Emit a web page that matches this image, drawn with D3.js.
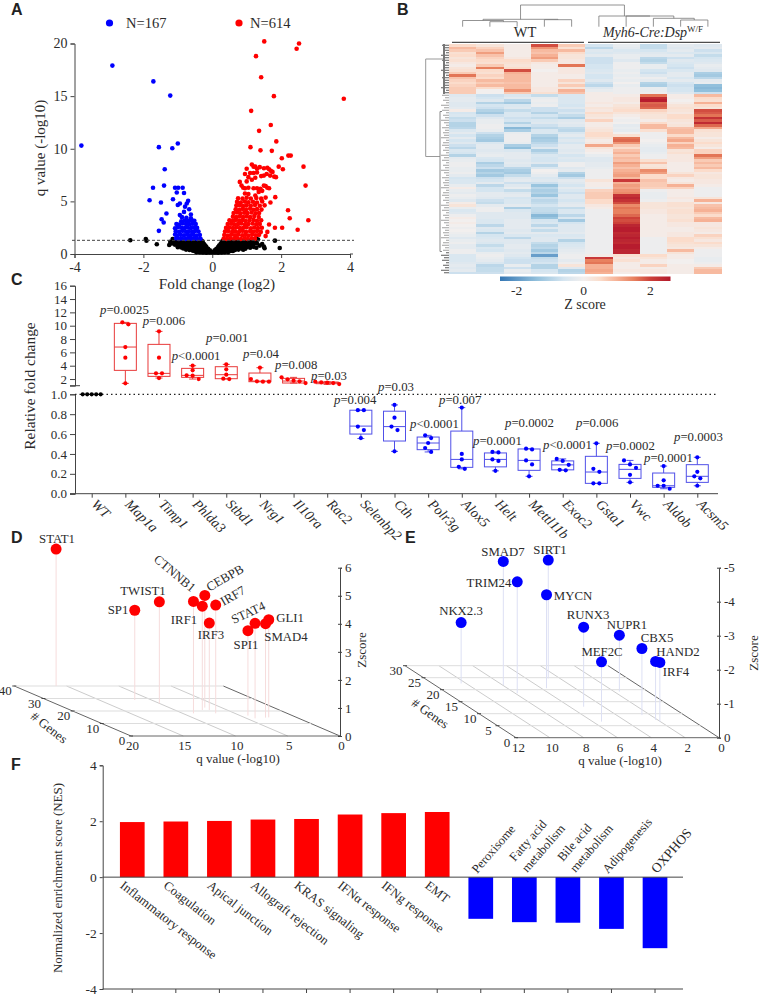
<!DOCTYPE html>
<html>
<head>
<meta charset="utf-8">
<script src="https://d3js.org/d3.v7.min.js"></script>
<style>
  html, body { margin: 0; padding: 0; background: #fff; }
  svg { display: block; }
  text { font-family: "Liberation Serif", serif; fill: #2b2b2b; }
  .domain, .tick line { stroke: #444; }
</style>
</head>
<body>
<svg id="vis" width="760" height="996"></svg>

<script>
// ---- Panel A values: [log2 fold change, -log10 q]
var volcanoBlue = [[-2.9,17.9],[-1.71,16.4],[-1.22,15.05],[-3.8,10.3],[-1.55,10.15],[-1.16,10.05],[-1.0,10.5],[-1.38,8.05],[-1.4,6.5],[-1.72,6.3],[-1.08,6.3],[-.99,6.3],[-.86,6.3],[-1.03,5.85],[-.82,5.8],[-1.82,5.1],[-1.14,5.2],[-1.49,4.9],[-.94,4.8],[-1.0,4.65],[-.7,5.05],[-.74,4.8],[-.79,4.5],[-1.33,3.85],[-.67,4.25],[-.82,4.0],[-.62,3.75],[-.94,3.7],[-1.47,3.3],[-1.41,3.0],[-1.55,2.2],
  [-.34,1.45],[-.43,1.42],[-.52,1.48],[-.6,1.44],[-.7,1.5],[-.78,1.43],[-.88,1.47],[-.97,1.42],[-1.05,1.5],
  [-.36,1.8],[-.46,1.76],[-.55,1.83],[-.64,1.78],[-.72,1.84],[-.82,1.77],[-.92,1.82],[-1.02,1.76],[-1.08,1.85],
  [-.4,2.14],[-.5,2.18],[-.58,2.1],[-.68,2.16],[-.76,2.12],[-.86,2.2],[-.96,2.1],[-1.06,2.17],
  [-.44,2.48],[-.53,2.52],[-.62,2.46],[-.72,2.54],[-.8,2.47],[-.9,2.5],[-1.0,2.55],[-1.08,2.44],
  [-.48,2.84],[-.58,2.88],[-.66,2.82],[-.76,2.86],[-.86,2.9],[-.96,2.8],[-1.04,2.85],
  [-.52,3.15],[-.6,3.2],[-.7,3.12],[-.8,3.18],[-.9,3.1],[-.62,3.4],[-.75,3.45],[-.88,3.5]];

var volcanoRed = [[1.51,20.2],[2.52,20.0],[2.45,19.5],[1.27,18.8],[1.42,16.8],[1.79,15.0],[3.82,14.75],[1.13,13.6],[1.70,12.25],[1.36,11.7],[1.11,10.15],[1.86,10.7],[1.40,9.85],[1.73,9.8],[2.02,9.1],[2.21,9.35],[2.28,9.35],[2.65,8.3],[1.93,8.3],[2.05,8.05],[2.71,6.5],[2.2,4.15],[2.25,3.4],[2.79,3.2],[2.48,2.3],[2.03,2.5],[1.82,2.5],[1.6,2.1],[1.55,1.7],[1.65,2.8],[1.69,4.9],[1.83,5.4],
  [1.0,8.1],[1.15,8.5],[1.2,8.3],[1.25,8.3],[1.3,8.1],[1.38,8.25],[1.5,8.15],[1.6,8.2],[1.65,8.05],[1.7,7.9],[1.75,7.8],[1.58,7.6],[1.68,7.45],[1.8,7.35],[1.85,7.3],[1.5,7.45],[1.42,7.4],[1.3,7.75],[1.2,7.7],[1.1,7.7],[.95,7.6],[1.05,7.3],[1.25,7.25],[1.15,7.05],[1.0,6.9],[.8,6.85],[.85,6.5],[.9,6.3],[.95,6.25],[1.05,6.3],[1.2,6.25],[1.3,6.25],[1.4,6.2],[1.5,6.5],[1.55,6.45],[1.6,6.3],[1.65,6.25],[1.45,6.0],[1.35,5.9],[1.05,5.7],[.95,5.75],[1.25,5.55],
  [.33,1.45],[.42,1.42],[.52,1.48],[.63,1.44],[.72,1.5],[.83,1.43],[.94,1.47],[1.03,1.42],[1.14,1.5],[1.24,1.44],
  [.35,1.8],[.45,1.76],[.55,1.83],[.66,1.78],[.75,1.84],[.87,1.77],[.96,1.82],[1.05,1.76],[1.16,1.85],[1.27,1.78],[1.36,1.82],
  [.37,2.14],[.47,2.18],[.58,2.1],[.67,2.16],[.78,2.12],[.88,2.2],[.98,2.1],[1.1,2.17],[1.2,2.12],[1.3,2.18],[1.41,2.1],
  [.4,2.48],[.5,2.52],[.6,2.46],[.7,2.54],[.8,2.47],[.9,2.5],[1.0,2.55],[1.12,2.44],[1.22,2.52],[1.33,2.46],[1.44,2.5],
  [.45,2.84],[.55,2.88],[.64,2.82],[.75,2.86],[.84,2.9],[.95,2.8],[1.05,2.85],[1.17,2.9],[1.28,2.82],[1.38,2.86],
  [.5,3.2],[.6,3.16],[.68,3.24],[.78,3.18],[.88,3.22],[.97,3.14],[1.08,3.2],[1.2,3.24],[1.3,3.16],[1.42,3.2],
  [.6,3.55],[.7,3.5],[.8,3.58],[.9,3.52],[1.0,3.56],[1.1,3.5],[1.22,3.6],[1.35,3.52],
  [.62,3.9],[.72,3.94],[.82,3.86],[.93,3.92],[1.02,3.88],[1.14,3.95],[1.26,3.86],[1.36,3.9],
  [.68,4.25],[.78,4.2],[.88,4.28],[.98,4.22],[1.1,4.3],[1.2,4.2],[1.3,4.26],[1.43,4.22],
  [.7,4.6],[.8,4.64],[.9,4.56],[1.0,4.62],[1.12,4.58],[1.24,4.66],[1.38,4.58],[1.52,4.62],
  [.72,4.95],[.83,4.9],[.95,4.98],[1.05,4.92],[1.18,4.96],[1.3,4.9],[1.45,5.0],
  [.75,5.3],[.88,5.26],[1.0,5.34],[1.12,5.28],[1.28,5.32],[1.42,5.26],[1.55,5.36]];

var volcanoBlack = [[-2.38,1.3],[-1.93,1.42],[-1.91,1.27],[-1.61,.92],[-1.25,.85],[-1.17,1.0],[-1.15,1.42],[-1.22,1.15],[1.82,1.27],[1.96,.57],[1.28,.6],[1.5,.7],[1.52,.55],[1.28,1.48],[1.33,1.38],[1.2,1.4],[1.45,.95],[1.38,.8],
  [-.3,1.25],[-.38,1.2],[-.47,1.26],[-.56,1.2],[-.65,1.25],[-.75,1.2],[-.85,1.26],[-.95,1.2],[-1.05,1.25],[-1.12,1.2],
  [.3,1.25],[.38,1.2],[.47,1.26],[.56,1.2],[.65,1.25],[.75,1.2],[.85,1.26],[.95,1.2],[1.05,1.25],[1.15,1.2],[1.25,1.25],
  [-.27,1.08],[-.36,1.05],[-.46,1.1],[-.55,1.05],[-.66,1.08],[-.76,1.05],[-.86,1.1],[-.96,1.05],[-1.04,1.08],
  [.27,1.08],[.36,1.05],[.46,1.1],[.55,1.05],[.66,1.08],[.76,1.05],[.86,1.1],[.96,1.05],[1.06,1.08],[1.16,1.05],[1.26,1.1],
  [-.24,.95],[-.33,.9],[-.42,.96],[-.51,.9],[-.6,.95],[-.7,.9],[-.8,.96],[-.9,.9],[-1.0,.95],[-1.08,.88],
  [.24,.95],[.33,.9],[.42,.96],[.51,.9],[.6,.95],[.7,.9],[.8,.96],[.9,.9],[1.0,.95],[1.1,.9],[1.2,.95],[1.3,1.0],
  [-.2,.8],[-.3,.76],[-.4,.8],[-.5,.76],[-.62,.8],[-.72,.76],[-.84,.8],[-.94,.78],
  [.2,.8],[.3,.76],[.4,.8],[.5,.76],[.62,.8],[.72,.76],[.84,.8],[.94,.78],[1.05,.8],[1.15,.76],
  [-.17,.65],[-.27,.6],[-.37,.66],[-.47,.6],[-.57,.65],[-.67,.6],[-.8,.66],[-.9,.62],[-1.0,.65],
  [.17,.65],[.27,.6],[.37,.66],[.47,.6],[.57,.65],[.67,.6],[.8,.66],[.9,.62],[1.0,.65],[1.1,.6],[1.2,.68],
  [-.12,.5],[-.22,.47],[-.32,.5],[-.42,.47],[-.52,.5],[-.62,.47],[-.72,.5],[-.84,.52],
  [.12,.5],[.22,.47],[.32,.5],[.42,.47],[.52,.5],[.62,.47],[.72,.5],[.84,.52],[.96,.5],
  [-.07,.35],[-.16,.32],[-.26,.36],[-.36,.3],[-.46,.36],[-.56,.32],[-.66,.38],[-.76,.42],
  [.07,.35],[.16,.32],[.26,.36],[.36,.3],[.46,.36],[.56,.32],[.66,.38],[.76,.42],[.9,.4],
  [-.04,.22],[-.12,.22],[-.21,.22],[-.3,.22],[-.4,.24],[-.5,.26],[.04,.22],[.12,.22],[.21,.22],[.3,.22],[.4,.24],[.5,.26],[.6,.28],
  [0,.14],[-.08,.14],[.08,.14],[-.17,.13],[.17,.13],[-.27,.14],[.27,.14],[-.36,.16],[.36,.16],[-.46,.18],[.46,.18]];

var volcanoXTicks = [-4, -2, 0, 2, 4];
var volcanoYTicks = [0, 5, 10, 15, 20];

// ---- Panel B values: z score per gene row, 5 WT columns then 5 Myh6-Cre:Dsp columns
var heatRows = [
[.5,.3,.1,1.9,.7,-.6,-.2,-.8,-.3,-.4],
[.9,.6,.1,1.3,.4,-.9,-.3,-.8,-.4,-.3],
[.7,.8,.1,.9,.9,-.4,-.5,-.6,-.3,-.7],
[.4,1.2,.1,.8,.5,-.5,-.4,-.4,-.5,-.5],
[.5,.8,.1,1,.3,-.3,-.2,-.3,-.3,-.8],
[.3,.6,.2,1.2,.3,-.7,-.2,-.9,-.7,-.6],
[.4,.5,.5,.7,.2,-.7,-.4,-1,-.4,-.5],
[.2,.4,.4,.2,.2,-.7,-.1,-.8,-.5,-.4],
[.1,.7,.3,.1,1.6,-.6,-.1,-.2,-.6,-.2],
[.3,1.5,.5,.1,.2,-.6,-.1,-.2,-.7,-.3],
[.4,.5,1.9,0,.2,-.5,-.2,-.6,-.5,-.4],
[.7,.4,1,.1,.2,-.4,-.1,-.7,-.3,-1.1],
[1.6,.6,.9,.1,.1,-.6,-.2,-.4,-.3,-1.2],
[.8,.5,.9,.1,.1,-.6,-.1,-.1,-.5,-.9],
[.6,.9,.9,.1,.6,-.4,-.2,-.3,-.3,-.3],
[.5,.7,.8,.1,.3,-.7,0,-1,-.6,-.2],
[.6,.9,.9,.1,.7,-.9,-.2,-1.1,-.7,-1.4],
[.7,.5,.9,.2,.3,-.4,-.1,-.2,-.6,-1.5],
[.7,0,1.3,.2,1,-.2,-.1,-.2,-.6,-1.4],
[.7,0,.7,.4,.8,.1,-.1,-.1,-.4,-.7],
[-.4,-.7,-.5,-.8,-.5,.1,.1,1.6,.1,.9],
[-.3,-.6,-.3,-.2,-.5,.1,.2,2.3,.1,.5],
[-.3,-.4,-.9,-.1,-.5,.1,.2,2.5,0,.4],
[-.4,-1,-1.2,-.2,-.5,.2,.1,1.7,.1,1],
[-.4,-.6,-.5,-.1,-.6,.1,.3,1.8,.3,.5],
[-.3,-.7,-.4,-.7,-.4,.3,.4,1.7,.4,.3],
[.1,-1,-.8,-.7,-.7,.2,.5,.6,.3,1.9],
[-.6,-1.2,-.5,-1,-.5,.5,.3,.4,.2,1.8],
[-.5,-.7,-.5,-.6,-.8,.3,.1,.3,.5,1.6],
[-.8,-.4,-.7,-.8,-1.1,.2,0,.3,.5,2.2],
[-.7,-.2,-.6,-.5,-.4,.6,-.1,.1,.3,1.8],
[-1,-.2,-1,-.4,-.3,.1,0,.5,.2,2.3],
[-1,-.1,-.6,-.7,-.4,.1,-.3,.9,.3,1.7],
[-.9,-.1,-1.5,-.9,-.8,.2,-.2,.9,.8,1.1],
[-.5,-.2,-1.1,-.5,-.9,.3,-.3,.4,.9,.4],
[-.3,-.7,-.2,-.5,-.5,.5,0,-.1,.9,.3],
[-.6,-1,-.1,-1,-.3,.5,.4,-.1,.5,.3],
[-.3,-1.1,-.1,-1.2,-.6,.3,1.6,-.1,.9,.1],
[-.6,-1.2,-.1,-1.1,-.4,.1,1.7,0,1.1,.3],
[-.4,-.5,-.2,-.9,-.6,.2,1.3,-.1,.6,.5],
[-.7,-.3,-1.1,-.7,-.3,1.1,.7,-.2,1,.3],
[-.9,-.3,-1.4,-.4,-.3,.3,.5,-.3,.9,.1],
[-.5,-.4,-.5,-1.1,-.4,.1,.8,-.3,.3,.6],
[-.6,-.3,-.3,-.8,-.3,0,1,-.2,.4,.6],
[-1,-.2,-.3,-.5,-.6,-.2,.7,-.1,.2,1.6],
[-.3,-.5,-.3,-.6,-.4,-.4,.9,-.1,.2,1.2],
[-.2,-.6,-.4,-.6,-.5,-.4,.8,.4,.2,.7],
[-.1,-1.1,-.3,-.4,-.1,-.3,1.2,.8,.1,.9],
[-.1,-.9,-.4,-.9,-.1,-.3,1,.3,.1,.7],
[-.2,-.7,-.9,-.5,-.4,-.2,.8,.4,.1,.9],
[-.2,-1.2,-1.1,0,-.3,-.1,1,1.4,.1,.5],
[-.1,-1,-1.2,-.1,-1,-.1,1.1,1.2,.3,.2],
[-.3,-1.2,-.8,-.3,-1.2,-.1,1.2,.5,.6,.3],
[-.6,-.7,-.4,-.5,-.7,-.1,.9,.5,.2,.3],
[-.5,-.6,-.3,-.4,-.3,.3,2.1,.8,.1,.2],
[-.5,-.3,-.7,-.7,-.4,.1,1,.7,.3,.2],
[-.2,-.9,-.4,-1.3,-.6,.1,1.2,.7,1,.1],
[.1,-.6,-.2,-.9,-.3,-.1,1.1,.6,.6,-.1],
[-.2,-.6,-.8,-1.1,-.5,.6,1.3,-.1,.1,-.1],
[-.3,-.3,-.4,-1,-.7,.7,1.4,-.2,.1,-.1],
[-.1,-.3,-.3,-1.3,-.4,.7,2.2,-.2,.1,-.1],
[-.2,-.4,-.6,-.7,-.4,.7,2.4,-.2,.2,.3],
[-.4,-.7,-.5,-.9,-.6,.5,2.2,-.1,.1,1],
[.1,-.8,-.5,-.8,-.4,.5,1.9,.3,.4,.2],
[.3,-.3,-.3,-.6,-.3,.2,1.4,.3,.4,.8],
[-.2,-.1,-1.1,-.8,-.8,.1,1.6,.3,.3,.9],
[-.5,-.1,-.5,-.8,-.5,-.1,1.5,.2,.4,1],
[-.4,-.4,-.4,-.9,-.5,-.1,1.5,.2,.4,.7],
[-.1,-.4,-.4,-1.5,-.9,-.1,1.7,.1,.3,.5],
[.1,-.4,-.4,-1.3,-.5,-.1,2,.1,.3,.9],
[0,-.5,-.3,-.6,-1.2,-.1,1.9,.1,.4,1],
[.1,-.5,-.3,-.5,-.6,-.1,2,.1,.2,.2],
[0,-.9,-.3,-.9,-.4,-.1,2.4,.1,.2,.2],
[-.1,-.4,-.3,-.4,-.4,-.1,2.5,.1,.1,.3],
[0,-.5,-.4,-.8,-.4,-.1,2.5,.1,.1,.2],
[-.1,-1,-.3,-.3,-.3,-.1,2.3,.1,.2,.1],
[-.2,-.6,-.5,-.5,-.5,-.1,2.4,.1,.2,.6],
[-.4,-.5,-.9,-.4,-.4,-.1,2.5,-.1,.5,.4],
[-.2,-.4,-.4,-.4,-1,-.1,2.4,-.1,.5,.2],
[-.1,-.5,-.4,-.8,-.6,-.1,2.3,-.1,.4,.5],
[-.3,-.8,-.3,-1,-.5,-.1,2.5,-.1,.3,.3],
[-.3,-.5,-.3,-.9,-.4,-.1,2.5,-.1,.2,.1],
[-.1,-.6,-.4,-1.2,-.3,-.1,2.4,-.1,.9,-.1],
[-.1,-.2,-.3,-.9,-.2,-.1,2.4,-.1,.3,-.1],
[-.5,-.1,-.4,-1.9,-.1,.1,.4,.5,.1,-.1],
[-.5,-.2,-.6,-.8,-.1,2.1,.2,.3,.1,-.2],
[-.5,-.3,-.7,-.7,-.3,1.5,.4,.1,0,-.2],
[-.4,-.5,-.7,-.6,-.1,1.6,.1,.1,0,-.1],
[-.3,-.9,-.2,-1,.3,1,.1,.6,.1,.1],
[-.4,-.8,-.7,-1,-.4,1,.1,.1,.1,.7],
[-.3,-.8,-.2,-.6,-1,1.1,.2,.2,.1,.9],
[-.7,-.7,-.3,-.5,-.9,1,.1,.2,.1,.9]];
var heatColumns = ["WT1","WT2","WT3","WT4","WT5","KO1","KO2","KO3","KO4","KO5"];
var heatTicks = [-2, 0, 2];
var leafDepths = [7,4,6,3,8,5,7,3,6,4,8,5,3,7,4,6,5,8,3,6];

// ---- Panel C values: box stats [min,q1,median,q3,max] and the five replicates
var geneNames = ["WT","Map1a","Timp1","Phlda3","Stbd1","Nrg1","Il10ra","Rac2","Selenbp2","Cth","Polr3g","Alox5","Helt","Mettl11b","Exoc2","Gsta1","Vwc","Aldob","Acsm5"];
var boxStats = [null,
 [1.35,3.3,6.8,10.35,10.5],[2.15,2.4,2.85,7.2,9.15],[2,2.25,2.55,3.6,4],[2,2.05,2.65,3.85,4.2],[1.6,1.6,1.7,2.9,3.7],[1.4,1.4,1.7,2.1,2.25],[1.2,1.3,1.45,1.55,1.6],
 [.555,.6,.68,.84,.84],[.426,.53,.675,.83,.893],[.42,.443,.51,.57,.587],[.25,.265,.345,.63,.866],[.23,.27,.345,.41,.42],[.175,.235,.335,.45,.453],[.235,.24,.29,.33,.35],[.104,.104,.218,.376,.507],[.114,.154,.245,.295,.335],[.05,.064,.08,.208,.278],[.08,.114,.175,.292,.366]];
var replicates = [[1,1,1,1,1],
 [10.5,10.2,6.8,5.2,1.35],[9.15,5.2,2.85,2.85,2.15],[4,3.3,2.55,2.5,2],[4.2,3.45,2.65,2.05,2],[3.7,2,1.65,1.6,1.6],[2.25,1.95,1.75,1.65,1.4],[1.6,1.5,1.45,1.4,1.25],
 [.84,.84,.675,.64,.56],[.893,.765,.675,.64,.426],[.587,.56,.51,.46,.42],[.866,.4,.345,.27,.25],[.42,.415,.345,.33,.23],[.453,.445,.335,.295,.175],[.35,.33,.29,.24,.235],[.507,.25,.22,.104,.104],[.335,.295,.26,.19,.114],[.278,.135,.08,.08,.05],[.366,.22,.175,.155,.08]];
var pSign = ["","=","=","<","=","=","=","=","=","=","<","=","=","=","<","=","=","=","="];
var pValue = ["","0.0025","0.006","0.0001","0.001","0.04","0.008","0.03","0.004","0.03","0.0001","0.007","0.0001","0.0002","0.0001","0.006","0.0002","0.0001","0.0003"];
var upperTicks = [2,4,6,8,10,12,14,16];
var lowerTicks = [0,.2,.4,.6,.8,1];

// ---- Panel D / E values
var dNames = ["STAT1","SP1","TWIST1","CTNNB1","IRF1","CEBPB","IRF7","IRF3","STAT4","SPI1","SMAD4","GLI1"];
var dQ =     [16.0,11.6,10.0,8.97,7.37,6.6,6.84,6.7,4.19,4.26,3.02,2.66];
var dGenes = [40,28.8,26.1,18.1,20.8,22.7,18.1,20.8,14.1,16.3,14.7,14.9];
var dZ =     [4.88,3.2,3.62,3.99,3.7,4.0,3.86,3.1,3.39,3.03,3.35,3.48];

var eNames = ["SMAD7","SIRT1","TRIM24","MYCN","NKX2.3","RUNX3","NUPR1","CBX5","MEF2C","HAND2","IRF4"];
var eQ =     [7.96,4.69,7.88,5.69,10.3,5.18,1.69,2.5,5.48,2.13,2.03];
var eGenes = [21.9,24.7,18.5,20.6,22.6,12.9,19.2,9.4,6.7,7.4,6.7];
var eZ =     [-3.64,-3.48,-3.28,-2.75,-1.79,-2.34,-1.66,-1.96,-1.76,-1.72,-1.74];

// ---- Panel F values
var pathways = ["Inflammatory response","Coagulation","Apical junction","Allograft rejection","KRAS signaling","IFNα response","IFNg response","EMT","Peroxisome","Fatty acid metabolism","Bile acid metabolism","Adipogenesis","OXPHOS"];
var nes = [1.97,1.99,2.01,2.06,2.08,2.24,2.29,2.33,-1.49,-1.61,-1.63,-1.85,-2.54];
var nesTicks = [-4,-2,0,2,4];

// Create the canvas
var svg = d3.select("#vis");
var RED = "#f00", BLUE = "#00f";

function txt(g, x, y, s, size, anchor, rot) {
    var t = g.append("text")
        .attr("transform", "translate(" + x + "," + y + ")" + (rot ? " rotate(" + rot + ")" : ""))
        .attr("text-anchor", anchor || "start")
        .attr("font-size", size)
        .text(s);
    return t;
}

function styleAxis(g, size) {
    g.selectAll("text").attr("font-size", size).attr("font-family", "Liberation Serif").style("fill", "#2b2b2b");
    g.selectAll(".domain,.tick line").attr("stroke", "#444");
    return g;
}

// panel letters
[["A",11,15],["B",397,15],["C",11,285],["D",11,543],["E",405,543],["F",11,770]].forEach(function(d) {
    txt(svg, d[1], d[2], d[0], 16).attr("font-weight", "bold").style("font-family", "Liberation Sans").style("fill", "#222");
});

// ---------------- A: volcano
var ax = d3.scaleLinear().domain([-4,4]).range([74.5,350]);
var ay = d3.scaleLinear().domain([0,20]).range([254,43.5]);
var gA = svg.append("g");

styleAxis(gA.append("g").attr("transform","translate(0,254)")
    .call(d3.axisBottom(ax).tickValues(volcanoXTicks).tickFormat(String).tickSizeOuter(0).tickSize(4).tickPadding(4)), 14);
styleAxis(gA.append("g").attr("transform","translate(74.5,0)")
    .call(d3.axisLeft(ay).tickValues(volcanoYTicks).tickFormat(String).tickSizeOuter(0).tickSize(4).tickPadding(3)), 14);
gA.append("line").attr("x1",350).attr("x2",353).attr("y1",254).attr("y2",254).attr("stroke","#444");

[[volcanoBlack,"#000"],[volcanoBlue,BLUE],[volcanoRed,RED]].forEach(function(s) {
    gA.append("g").selectAll("circle").data(s[0]).join("circle")
        .attr("cx", function(d) { return ax(d[0]); })
        .attr("cy", function(d) { return ay(d[1]); })
        .attr("r", 2.3)
        .attr("fill", s[1]);
});
gA.append("line").attr("x1",72).attr("x2",354).attr("y1",ay(1.3)).attr("y2",ay(1.3))
    .attr("stroke","#444").attr("stroke-dasharray","3,2");

gA.append("circle").attr("cx",109.5).attr("cy",23).attr("r",3.6).attr("fill",BLUE);
gA.append("circle").attr("cx",239).attr("cy",23).attr("r",3.6).attr("fill",RED);
txt(gA,126,28,"N=167",14.5);
txt(gA,250,28,"N=614",14.5);
txt(gA,45,148,"q value (-log10)",15,"middle",-90);
txt(gA,217,289,"Fold change (log2)",15.3,"middle");

// ---------------- B: heatmap
var gB = svg.append("g");
var hx = d3.scaleBand().domain(d3.range(heatColumns.length)).range([449,721.5]);
var hy = d3.scaleBand().domain(d3.range(heatRows.length)).range([44,274]);
var heatColor = d3.scaleLinear()
    .domain([-2.6,-1.4,-.6,0,.5,1,1.5,2,2.6])
    .range(["#2b6fb0","#92c0dc","#d5e5f0","#f2efee","#fbdccb","#f6b195","#e8815f","#cd4039","#b2182b"]);

var defs = svg.append("defs");
defs.append("filter").attr("id","soft").append("feGaussianBlur").attr("stdDeviation",.45);
var gCells = gB.append("g").attr("filter","url(#soft)");

heatRows.forEach(function(row, i) {
    gCells.selectAll("rect.r" + i).data(row).join("rect")
        .attr("class", "r" + i)
        .attr("x", function(d, j) { return hx(j); })
        .attr("y", hy(i))
        .attr("width", hx.bandwidth())
        .attr("height", hy.bandwidth())
        .attr("fill", function(d) { return heatColor(d); })
        .attr("shape-rendering", "crispEdges");
});

// column dendrogram, as [left, right, height] with leaves as column indexes
var colTree = [[[0,[1,2,21.7],20.5],[3,4,19.7],19.3],[5,[6,[7,[8,9,20],18.3],16],16],5];
function drawTree(n) {
    if (typeof n === "number") return { x: hx(n) + hx.bandwidth() / 2, y: 26.7 };
    var a = drawTree(n[0]), b = drawTree(n[1]), h = n[2];
    gB.append("path").attr("fill","none").attr("stroke","#777").attr("stroke-width",.8)
      .attr("d","M"+a.x+","+a.y+"V"+h+"H"+b.x+"V"+b.y);
    return { x: (a.x + b.x) / 2, y: h };
}
drawTree(colTree);

// row dendrogram: one little leaf per row plus the big trunk
heatRows.forEach(function(r, i) {
    var y = hy(i) + hy.bandwidth() / 2, dark = i < 20 || i > 82;
    gB.append("line").attr("x1",449).attr("x2",449 - leafDepths[i % leafDepths.length]).attr("y1",y).attr("y2",y)
      .attr("stroke", dark ? "#333" : "#888").attr("stroke-width",.8);
});
gB.append("path").attr("fill","none").attr("stroke","#999")
  .attr("d","M443,"+hy(6)+"H425.7V"+hy(45)+"H440");
gB.append("path").attr("fill","none").attr("stroke","#888")
  .attr("d","M442,"+hy(27)+"H440V"+hy(83)+"H442");
gB.append("line").attr("x1",444).attr("x2",444).attr("y1",44).attr("y2",94).attr("stroke","#777").attr("stroke-width",2);

gB.append("line").attr("x1",452).attr("x2",584).attr("y1",42.3).attr("y2",42.3).attr("stroke","#222");
gB.append("line").attr("x1",588).attr("x2",720).attr("y1",42.3).attr("y2",42.3).attr("stroke","#222");
txt(gB,525,37,"WT",14.5,"middle");
var koLabel = txt(gB,653,37,"",14,"middle").attr("font-style","italic");
koLabel.append("tspan").text("Myh6-Cre:Dsp");
koLabel.append("tspan").attr("font-style","normal").attr("font-size",9).attr("dy",-5).text("W/F");

// colour bar
var cbx = d3.scaleLinear().domain([-2.5,2.6]).range([500,670.5]);
var grad = defs.append("linearGradient").attr("id","zgrad");
d3.range(-2.5,2.61,.1).forEach(function(v) {
    grad.append("stop").attr("offset",(cbx(v)-500)/170.5).attr("stop-color",heatColor(v));
});
gB.append("rect").attr("x",500).attr("y",276.5).attr("width",170.5).attr("height",4.5).attr("fill","url(#zgrad)");
heatTicks.forEach(function(t) { txt(gB,cbx(t),295,String(t),13.5,"middle"); });
txt(gB,585,309,"Z score",14,"middle");

// ---------------- C: box plots with a broken axis
var gC = svg.append("g");
var cx = d3.scalePoint().domain(geneNames).range([91.7,697.3]);
var upperY = d3.scaleLinear().domain([1,16]).range([385.7,285.7]);
var lowerY = d3.scaleLinear().domain([0,1]).range([493.7,394.3]);
function cy(v) { return v > 1 ? upperY(v) : lowerY(v); }

styleAxis(gC.append("g").attr("transform","translate(75,0)")
    .call(d3.axisLeft(upperY).tickValues(upperTicks).tickFormat(String).tickSizeOuter(0).tickSize(5).tickPadding(3)), 13);
styleAxis(gC.append("g").attr("transform","translate(75,0)")
    .call(d3.axisLeft(lowerY).tickValues(lowerTicks).tickFormat(d3.format(".1f")).tickSizeOuter(0).tickSize(5).tickPadding(3)), 13);
gC.append("line").attr("x1",70).attr("x2",80).attr("y1",385.7).attr("y2",385.7).attr("stroke","#444");

var cAxis = gC.append("g").attr("transform","translate(0,493.7)")
    .call(d3.axisBottom(cx).tickSizeOuter(0).tickSize(4));
cAxis.selectAll("text").remove();
cAxis.select(".domain").attr("d","M70,0H718");
cAxis.selectAll(".domain,.tick line").attr("stroke","#444");
geneNames.forEach(function(n) {
    txt(gC,cx(n)-1,505,n,14,"start",45).attr("font-style", "italic");
});

gC.append("line").attr("x1",75).attr("x2",717).attr("y1",394.3).attr("y2",394.3)
    .attr("stroke","#222").attr("stroke-width",1.2).attr("stroke-dasharray","1.5,3");

var boxW = 22;
geneNames.forEach(function(n, i) {
    var c = cx(n), col = i === 0 ? "#000" : (i < 8 ? RED : BLUE);
    var line = i < 8 ? "#e83a3a" : "#5050e8";
    var st = boxStats[i];
    if (st) {
        gC.append("line").attr("x1",c).attr("x2",c).attr("y1",cy(st[0])).attr("y2",cy(st[4])).attr("stroke",line);
        gC.append("rect").attr("x",c-boxW/2).attr("width",boxW).attr("y",cy(st[3])).attr("height",cy(st[1])-cy(st[3]))
          .attr("fill","#fff").attr("stroke",line);
        [st[0],st[2],st[4]].forEach(function(v, k) {
            var w = k === 1 ? boxW/2 : 3.5;
            gC.append("line").attr("x1",c-w).attr("x2",c+w).attr("y1",cy(v)).attr("y2",cy(v)).attr("stroke",line);
        });
    }
    // simple swarm: replicates closer than 4px are spread sideways
    var vals = replicates[i].slice().sort(d3.descending), groups = [];
    vals.forEach(function(v) {
        var last = groups[groups.length-1];
        if (last && Math.abs(cy(last[last.length-1]) - cy(v)) < 4) last.push(v); else groups.push([v]);
    });
    groups.forEach(function(gr) {
        gr.forEach(function(v, k) {
            gC.append("circle").attr("cx", c + (k - (gr.length-1)/2) * (i === 0 ? 4.5 : 6)).attr("cy", cy(v)).attr("r", 2.1).attr("fill", col);
        });
    });
});

// p value labels, left edge and baseline
var pLabelX = [0,100,142.7,171.7,206,243,275,311,334,378,410,439,473,505,543,576,606,644,674];
var pLabelY = [0,314,325,360,341.7,357.5,368.5,380,404,390.7,428,404,445,427,449,427,450,462,441];
geneNames.forEach(function(n, i) {
    if (!pValue[i]) return;
    var t = txt(gC,pLabelX[i],pLabelY[i],"",12.8);
    t.append("tspan").attr("font-style","italic").text("p");
    t.append("tspan").text(pSign[i] + pValue[i]);
});
txt(gC,35,386,"Relative fold change",15.4,"middle",-90);

// ---------------- D / E: tilted 3D scatter
function draw3d(cfg) {
    var g = svg.append("g");
    var qx = d3.scaleLinear().domain([0,cfg.qMax]).range([0,-cfg.qSpan]);
    var gx = d3.scaleLinear().domain([0,cfg.gMax]).range([0,-cfg.gSpanX]);
    var gy = d3.scaleLinear().domain([0,cfg.gMax]).range([0,-cfg.gSpanY]);
    var zy = d3.scaleLinear().domain([0,cfg.zMax]).range([cfg.oy,cfg.oy-cfg.zSpan]);
    function px(q, n) { return cfg.ox + qx(q) + gx(n); }
    function py(n, z) { return gy(n) + zy(z); }

    // floor grid
    cfg.qGrid.forEach(function(q) {
        g.append("line").attr("x1",px(q,0)).attr("y1",py(0,0)).attr("x2",px(q,cfg.gMax)).attr("y2",py(cfg.gMax,0))
         .attr("stroke", q === 0 || q === cfg.qMax ? "#666" : "#ccc");
    });
    cfg.gGrid.forEach(function(n) {
        g.append("line").attr("x1",px(0,n)).attr("y1",py(n,0)).attr("x2",px(cfg.qMax,n)).attr("y2",py(n,0))
         .attr("stroke", n === 0 ? "#666" : "#ddd");
    });

    // stems then balls
    cfg.names.forEach(function(n, i) {
        g.append("line").attr("x1",px(cfg.q[i],cfg.genes[i])).attr("x2",px(cfg.q[i],cfg.genes[i]))
         .attr("y1",py(cfg.genes[i],0)).attr("y2",py(cfg.genes[i],cfg.z[i])).attr("stroke",cfg.stem);
    });
    cfg.names.forEach(function(n, i) {
        g.append("circle").attr("cx",px(cfg.q[i],cfg.genes[i])).attr("cy",py(cfg.genes[i],cfg.z[i])).attr("r",5.5).attr("fill",cfg.color);
    });
    cfg.names.forEach(function(n, i) {
        var l = cfg.labels[i];
        txt(g,l[0],l[1]+4.5,n,12.8,"middle",l[2]);
    });

    // z axis
    styleAxis(g.append("g").attr("transform","translate("+cfg.ox+",0)")
        .call(d3.axisRight(zy).tickValues(cfg.zTicks).tickFormat(String).tickSizeOuter(0).tickSize(2).tickPadding(3)), 13);
    g.selectAll(".tick line").attr("x1",-2);

    cfg.qTicks.forEach(function(q) { txt(g,px(q,0)+cfg.qOff,py(0,0)+14,String(q),13,"middle"); });
    cfg.gTicks.forEach(function(n) {
        txt(g,px(cfg.qMax,n)-9,py(n,0)+9,String(n),13,"middle");
        g.append("line").attr("x1",px(cfg.qMax,n)-2).attr("x2",px(cfg.qMax,n)+2).attr("y1",py(n,0)).attr("y2",py(n,0)).attr("stroke","#444");
    });
    txt(g,cfg.qTitle[0],cfg.qTitle[1],"q value (-log10)",13,"middle");
    txt(g,cfg.gTitle[0],cfg.gTitle[1],"# Genes",13,"middle",cfg.gTitle[2]);
    txt(g,cfg.zTitle[0],cfg.zTitle[1],"Zscore",13,"middle",-90);
}

draw3d({
    names: dNames, q: dQ, genes: dGenes, z: dZ, color: RED, stem: "#f6dcdc",
    ox: 340, oy: 736, qMax: 20, qSpan: 209, gMax: 40, gSpanX: 116.7, gSpanY: 50, zMax: 6, zSpan: 168.3,
    qGrid: [0,5,10,15,20], gGrid: [0,10,20,30,40], qTicks: [0,5,10,15,20], gTicks: [0,10,20,30,40], zTicks: [0,1,2,3,4,5,6],
    qOff: 1.5,
    qTitle: [238,762.7], gTitle: [46.5,731,38], zTitle: [366,650],
    labels: [[57,538,0],[118,609,0],[143,590,0],[172,572,40],[184,619,0],[227,577,-30],[235,595,-30],[211,634,0],[250,612,-25],[246,644,0],[286,636,0],[290,617,0]]
});

draw3d({
    names: eNames, q: eQ, genes: eGenes, z: eZ, color: BLUE, stem: "#dde0f4",
    ox: 719, oy: 737.7, qMax: 12, qSpan: 203, gMax: 30, gSpanX: 111, gSpanY: 72, zMax: -5, zSpan: 170,
    qGrid: [0,2,4,6,8,10,12], gGrid: [0,5,10,15,20,25,30], qTicks: [0,2,4,6,8,10,12], gTicks: [0,5,10,15,20,25,30], zTicks: [0,-1,-2,-3,-4,-5],
    qOff: 2.5,
    qTitle: [620,765], gTitle: [427.7,717,35], zTitle: [758,653],
    labels: [[503,551,0],[550,549,0],[489,582,0],[573,595,0],[461,610,0],[588,614,0],[627,624,0],[657,637,0],[602,651,0],[678,651,0],[676,671,0]]
});

// ---------------- F: enrichment bars
var gF = svg.append("g");
var fx = d3.scaleBand().domain(pathways).range([110.5,676.8]).paddingInner(.433).paddingOuter(.2165);
var fy = d3.scaleLinear().domain([-4,4]).range([989,765.3]);

gF.selectAll("rect").data(nes).join("rect")
    .attr("x", function(d, i) { return fx(pathways[i]); })
    .attr("y", function(d) { return fy(Math.max(d,0)); })
    .attr("width", fx.bandwidth())
    .attr("height", function(d) { return Math.abs(fy(d) - fy(0)); })
    .attr("fill", function(d) { return d > 0 ? RED : BLUE; });

styleAxis(gF.append("g").attr("transform","translate(102.7,0)")
    .call(d3.axisLeft(fy).tickValues(nesTicks).tickFormat(String).tickSizeOuter(0).tickSize(3).tickPadding(3)), 13.5);
gF.append("line").attr("x1",102.7).attr("x2",683).attr("y1",fy(0)).attr("y2",fy(0)).attr("stroke","#444");
var fAxis = gF.append("g").attr("transform","translate(0,989)")
    .call(d3.axisBottom(fx).tickSizeOuter(0).tickSize(4));
fAxis.selectAll("text").remove();
fAxis.select(".domain").attr("d","M102.7,0H683");
fAxis.selectAll(".domain,.tick line").attr("stroke","#444");

// pathway labels, offsets from the bar centre
var blueOffsets = {"Peroxisome":-3.5,"Fatty acid metabolism":-9.5,"Bile acid metabolism":-5,"Adipogenesis":-3.5,"OXPHOS":2};
pathways.forEach(function(p, i) {
    var c = fx(p) + fx.bandwidth() / 2;
    if (nes[i] > 0) {
        txt(gF,c-13,887,p,12.8,"start",38);
    } else if (p.indexOf(" metabolism") > 0) {
        txt(gF,c+blueOffsets[p],862,p.replace(" metabolism",""),12.5,"start",-49);
        txt(gF,c+blueOffsets[p]+12.5,873,"metabolism",12.5,"start",-49);
    } else {
        txt(gF,c+blueOffsets[p],874,p,p === "OXPHOS" ? 13.5 : 12.5,"start",-49);
    }
});
txt(gF,62,878,"Normalized enrichment score (NES)",13,"middle",-90);
</script>
</body>
</html>
